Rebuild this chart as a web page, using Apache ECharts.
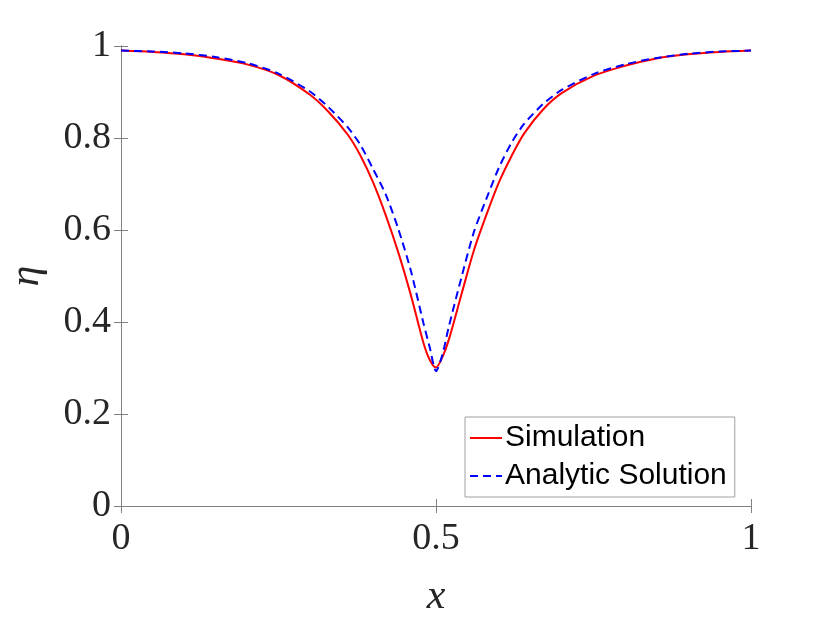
<!DOCTYPE html>
<html>
<head>
<meta charset="utf-8">
<script src="https://cdn.jsdelivr.net/npm/echarts@6/dist/echarts.min.js"></script>
<style>
  html, body { margin: 0; padding: 0; background: #fff; }
  #chart { width: 830px; height: 623px; }
</style>
</head>
<body>
<div id="chart"></div>
<script>
var myChart = echarts.init(document.getElementById('chart'));

// x 采样位置
var xs = [0, 0.05, 0.1, 0.15, 0.2, 0.25, 0.3, 0.33, 0.36, 0.38, 0.4, 0.42, 0.44, 0.46, 0.48, 0.49,
  0.5, 0.51, 0.52, 0.54, 0.56, 0.58, 0.6, 0.62, 0.64, 0.67, 0.7, 0.75, 0.8, 0.85, 0.9, 0.95, 1];
// Simulation
var etaSim = [0.990, 0.987, 0.982, 0.973, 0.960, 0.937, 0.894, 0.856, 0.807, 0.762, 0.704, 0.633,
  0.552, 0.459, 0.355, 0.318, 0.301, 0.323, 0.360, 0.458, 0.555, 0.633, 0.704, 0.761, 0.810,
  0.862, 0.898, 0.935, 0.957, 0.973, 0.982, 0.987, 0.990];
// Analytic Solution
var etaAna = [0.990, 0.988, 0.984, 0.976, 0.963, 0.940, 0.901, 0.866, 0.823, 0.785, 0.733, 0.678,
  0.603, 0.512, 0.398, 0.345, 0.293, 0.328, 0.388, 0.495, 0.595, 0.668, 0.736, 0.790, 0.831,
  0.874, 0.905, 0.939, 0.960, 0.974, 0.983, 0.988, 0.990];

var seriesNames = ['Simulation', 'Analytic Solution'];

var pairs = function (x, y) {
  var out = [];
  for (var i = 0; i < x.length; i++) {
    out.push([x[i], y[i]]);
  }
  return out;
};

var labelFont = {
  fontFamily: 'Liberation Serif',
  fontSize: 38,
  color: '#262626'
};
var axisGray = '#808080';

var tickFmt = function (v) {
  return String(Math.round(v * 10) / 10);
};

var option = {
  animation: false,
  backgroundColor: '#fff',
  grid: {
    left: 121,
    right: 79,
    top: 46,
    bottom: 117,
    outerBoundsMode: 'none'
  },
  legend: {
    orient: 'vertical',
    left: 465,
    top: 417,
    padding: [6, 8, 6, 4],
    itemGap: 8,
    itemWidth: 32,
    itemHeight: 14,
    backgroundColor: '#fff',
    borderColor: '#a0a0a0',
    borderWidth: 1,
    borderRadius: 0,
    itemStyle: { opacity: 0 },
    textStyle: {
      fontFamily: 'Liberation Sans',
      fontSize: 30,
      color: '#000',
      padding: [0, 0, 0, -2]
    },
    data: seriesNames
  },
  xAxis: [{
    type: 'value',
    min: 0,
    max: 1,
    interval: 0.5,
    name: 'x',
    nameLocation: 'middle',
    nameGap: 70,
    nameTextStyle: {
      fontFamily: 'Liberation Serif',
      fontStyle: 'italic',
      fontSize: 42,
      color: '#262626'
    },
    axisLine: { show: true, lineStyle: { color: axisGray, width: 1 } },
    axisTick: { show: true, inside: true, length: 7, lineStyle: { color: axisGray } },
    axisLabel: Object.assign({ margin: 14, formatter: tickFmt }, labelFont),
    splitLine: { show: false }
  }, {
    type: 'value',
    position: 'top',
    min: 0,
    max: 1,
    interval: 0.5,
    axisLine: { show: true, lineStyle: { color: axisGray, width: 1 } },
    axisTick: { show: true, inside: true, length: 7, lineStyle: { color: axisGray } },
    axisLabel: { show: false },
    splitLine: { show: false }
  }],
  yAxis: [{
    type: 'value',
    min: 0,
    max: 1,
    interval: 0.2,
    name: 'η',
    nameLocation: 'middle',
    nameGap: 73,
    nameRotate: 90,
    nameTextStyle: {
      fontFamily: 'Liberation Serif',
      fontStyle: 'italic',
      fontSize: 42,
      color: '#262626'
    },
    axisLine: { show: true, lineStyle: { color: axisGray, width: 1 } },
    axisTick: { show: true, inside: true, length: 7, lineStyle: { color: axisGray } },
    axisLabel: Object.assign({ margin: 10, formatter: tickFmt }, labelFont),
    splitLine: { show: false }
  }, {
    type: 'value',
    position: 'right',
    min: 0,
    max: 1,
    interval: 0.2,
    axisLine: { show: true, lineStyle: { color: axisGray, width: 1 } },
    axisTick: { show: true, inside: true, length: 7, lineStyle: { color: axisGray } },
    axisLabel: { show: false },
    splitLine: { show: false }
  }],
  series: [{
    name: seriesNames[0],
    type: 'line',
    data: pairs(xs, etaSim),
    smooth: 0.3,
    showSymbol: false,
    symbol: 'none',
    z: 2,
    lineStyle: { color: '#ff0000', width: 2 },
    itemStyle: { color: '#ff0000' }
  }, {
    name: seriesNames[1],
    type: 'line',
    data: pairs(xs, etaAna),
    smooth: 0.25,
    showSymbol: false,
    symbol: 'none',
    z: 3,
    lineStyle: { color: '#0000ff', width: 2, type: [8, 5] },
    itemStyle: { color: '#0000ff' }
  }]
};

myChart.setOption(option);

window.onresize = function () {
  myChart.resize();
};
</script>
</body>
</html>
